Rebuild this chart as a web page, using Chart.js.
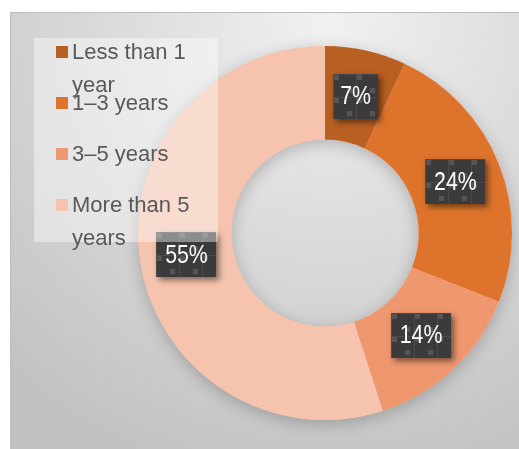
<!DOCTYPE html>
<html>
<head>
<meta charset="utf-8">
<script src="https://cdn.jsdelivr.net/npm/chart.js@4/dist/chart.umd.min.js"></script>
<style>
  html, body { margin: 0; padding: 0; background: #fff; }
  #wrap { width: 519px; height: 449px; }
</style>
</head>
<body>
<div id="wrap"><canvas id="tenureChart" width="519" height="449"></canvas></div>
<script>
// data
const labels = ["Less than 1 year", "1–3 years", "3–5 years", "More than 5 years"]
const shares = [7, 24, 14, 55]
const colors = ["#B85F22", "#DE742C", "#EF9870", "#F5C3AE"]

const FONT = '"Liberation Sans", Arial, sans-serif'

// frame + gradient backdrop, and a soft shadow under the ring
const backdrop = {
  id: "backdrop",
  beforeDraw(chart) {
    const ctx = chart.ctx
    ctx.save()
    ctx.fillStyle = "#ffffff"
    ctx.fillRect(0, 0, chart.width, chart.height)
    const g = ctx.createRadialGradient(330, 20, 0, 330, 20, 470)
    g.addColorStop(0, "#f1f1f1")
    g.addColorStop(1, "#c2c2c2")
    ctx.fillStyle = g
    ctx.fillRect(10, 12, chart.width - 10, chart.height - 12)
    ctx.strokeStyle = "#bdbdbd"
    ctx.lineWidth = 1
    ctx.beginPath()
    ctx.moveTo(10.5, chart.height)
    ctx.lineTo(10.5, 12.5)
    ctx.lineTo(chart.width, 12.5)
    ctx.stroke()
    ctx.restore()
  },
  beforeDatasetsDraw(chart) {
    const arc = chart.getDatasetMeta(0).data[0]
    if (!arc) return
    const ctx = chart.ctx
    ctx.save()
    ctx.shadowColor = "rgba(0,0,0,0.22)"
    ctx.shadowBlur = 16
    ctx.shadowOffsetY = 4
    ctx.fillStyle = "#f5c3ae"
    ctx.beginPath()
    ctx.arc(arc.x, arc.y, arc.outerRadius, 0, Math.PI * 2)
    ctx.arc(arc.x, arc.y, arc.innerRadius, 0, Math.PI * 2, true)
    ctx.fill()
    ctx.restore()
  },
}

function drawTag(ctx, cx, cy, text) {
  ctx.save()
  ctx.font = "26px " + FONT
  const sx = 0.82
  const tw = ctx.measureText(text).width * sx
  const w = tw > 36 ? 60 : 45
  const h = 45
  const x = Math.round(cx - w / 2)
  const y = Math.round(cy - h / 2)

  ctx.shadowColor = "rgba(0,0,0,0.5)"
  ctx.shadowBlur = 6
  ctx.shadowOffsetX = 3
  ctx.shadowOffsetY = 3
  ctx.fillStyle = "#3b3b3b"
  ctx.fillRect(x, y, w, h)
  ctx.shadowColor = "transparent"

  // tile pattern
  ctx.save()
  ctx.beginPath()
  ctx.rect(x, y, w, h)
  ctx.clip()
  const cell = 23
  for (let ty = 0; ty < h; ty += cell) {
    for (let tx = 0; tx < w; tx += cell) {
      ctx.fillStyle = "#555555"
      ctx.fillRect(x + tx + 1, y + ty + 1, 5, 5)
      ctx.fillRect(x + tx + 14, y + ty + 14, 5, 5)
      ctx.strokeStyle = "#4a4a4a"
      ctx.lineWidth = 1
      ctx.strokeRect(x + tx + 0.5, y + ty + 0.5, cell, cell)
    }
  }
  ctx.restore()

  ctx.fillStyle = "#ffffff"
  ctx.textAlign = "center"
  ctx.textBaseline = "middle"
  ctx.translate(cx, cy + 1)
  ctx.scale(sx, 1)
  ctx.fillText(text, 0, 0)
  ctx.restore()
}

const tags = {
  id: "tags",
  afterDatasetsDraw(chart) {
    const ctx = chart.ctx
    chart.getDatasetMeta(0).data.forEach((arc, i) => {
      const p = arc.tooltipPosition()
      drawTag(ctx, p.x, p.y, shares[i] + "%")
    })
  },
}

function wrapText(ctx, text, maxW) {
  const words = text.split(" ")
  const lines = []
  let line = ""
  words.forEach((w) => {
    const test = line ? line + " " + w : w
    if (ctx.measureText(test).width > maxW && line) {
      lines.push(line)
      line = w
    } else {
      line = test
    }
  })
  if (line) lines.push(line)
  return lines
}

// legend box sits over the plot, half see-through
const sideLegend = {
  id: "sideLegend",
  afterDraw(chart) {
    const ctx = chart.ctx
    ctx.save()
    ctx.fillStyle = "rgba(255,255,255,0.42)"
    ctx.fillRect(34, 38, 184, 204)
    ctx.font = "22px " + FONT
    ctx.textBaseline = "middle"
    ctx.textAlign = "left"
    labels.forEach((label, i) => {
      const y = 52 + i * 51
      ctx.fillStyle = colors[i]
      ctx.fillRect(56, y - 6, 12, 12)
      ctx.fillStyle = "#595959"
      wrapText(ctx, label, 140).forEach((ln, k) => {
        ctx.fillText(ln, 72, y + 1 + k * 33)
      })
    })
    ctx.restore()
  },
}

new Chart(document.getElementById("tenureChart"), {
  type: "doughnut",
  data: {
    labels: labels,
    datasets: [
      {
        data: shares,
        backgroundColor: colors,
        borderWidth: 0,
        hoverOffset: 0,
        offset: 0,
      },
    ],
  },
  options: {
    responsive: false,
    devicePixelRatio: 1,
    animation: false,
    cutout: "50%",
    layout: {
      padding: { left: 138, top: 46, right: 7, bottom: 29 },
    },
    plugins: {
      legend: { display: false },
      tooltip: { enabled: false },
    },
  },
  plugins: [backdrop, tags, sideLegend],
})
</script>
</body>
</html>
